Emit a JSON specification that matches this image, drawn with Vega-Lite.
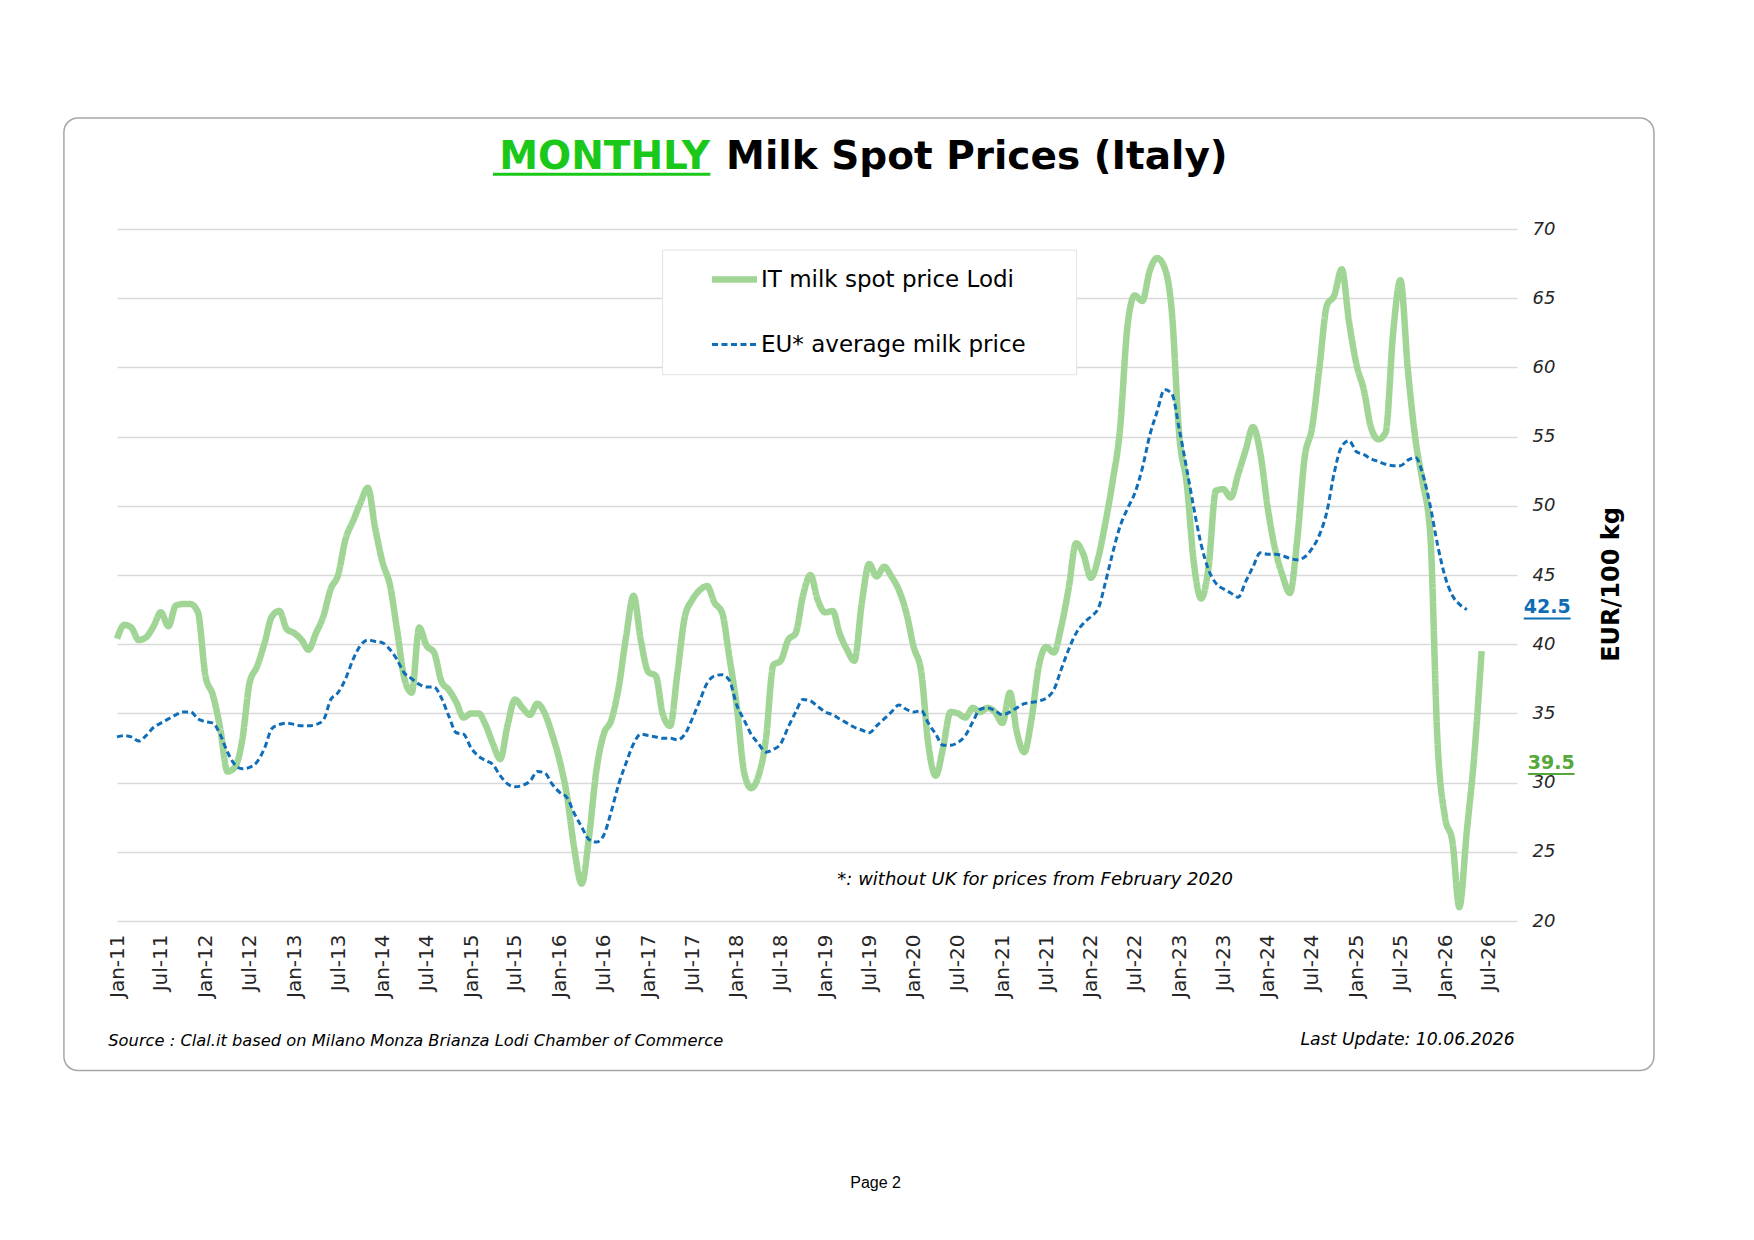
{
  "$schema": "https://vega.github.io/schema/vega-lite/v6.json",
  "width": 1400,
  "height": 692,
  "autosize": "none",
  "padding": {"left": 117, "top": 229, "right": 237, "bottom": 319},
  "background": "white",
  "view": {"stroke": null},
  "config": {"font": "DejaVu Sans"},
  "data": {
    "format": {"parse": {"d": "utc:'%Y-%m'"}},
    "values": [
      {"d": "2011-01", "it": 40.4, "eu": 33.3}, {"d": "2011-02", "it": 41.4, "eu": 33.4}, {"d": "2011-03", "it": 41.2, "eu": 33.3},
      {"d": "2011-04", "it": 40.3, "eu": 33.0}, {"d": "2011-05", "it": 40.5, "eu": 33.4}, {"d": "2011-06", "it": 41.3, "eu": 34.0},
      {"d": "2011-07", "it": 42.3, "eu": 34.3}, {"d": "2011-08", "it": 41.3, "eu": 34.6}, {"d": "2011-09", "it": 42.8, "eu": 34.9},
      {"d": "2011-10", "it": 42.9, "eu": 35.1}, {"d": "2011-11", "it": 42.9, "eu": 35.1}, {"d": "2011-12", "it": 42.3, "eu": 34.6},
      {"d": "2012-01", "it": 37.7, "eu": 34.4}, {"d": "2012-02", "it": 36.3, "eu": 34.3}, {"d": "2012-03", "it": 34.0, "eu": 33.5},
      {"d": "2012-04", "it": 30.8, "eu": 32.2}, {"d": "2012-05", "it": 31.1, "eu": 31.3}, {"d": "2012-06", "it": 33.1, "eu": 31.0},
      {"d": "2012-07", "it": 37.2, "eu": 31.1}, {"d": "2012-08", "it": 38.4, "eu": 31.5}, {"d": "2012-09", "it": 40.1, "eu": 32.5},
      {"d": "2012-10", "it": 42.0, "eu": 33.9}, {"d": "2012-11", "it": 42.4, "eu": 34.2}, {"d": "2012-12", "it": 41.1, "eu": 34.3},
      {"d": "2013-01", "it": 40.8, "eu": 34.2}, {"d": "2013-02", "it": 40.3, "eu": 34.1}, {"d": "2013-03", "it": 39.6, "eu": 34.1},
      {"d": "2013-04", "it": 40.8, "eu": 34.2}, {"d": "2013-05", "it": 42.0, "eu": 34.5}, {"d": "2013-06", "it": 44.0, "eu": 36.0},
      {"d": "2013-07", "it": 45.0, "eu": 36.5}, {"d": "2013-08", "it": 47.6, "eu": 37.5}, {"d": "2013-09", "it": 48.9, "eu": 38.9},
      {"d": "2013-10", "it": 50.2, "eu": 39.9}, {"d": "2013-11", "it": 51.3, "eu": 40.3}, {"d": "2013-12", "it": 48.4, "eu": 40.2},
      {"d": "2014-01", "it": 45.9, "eu": 40.1}, {"d": "2014-02", "it": 44.2, "eu": 39.6}, {"d": "2014-03", "it": 41.1, "eu": 38.9},
      {"d": "2014-04", "it": 37.5, "eu": 37.9}, {"d": "2014-05", "it": 36.5, "eu": 37.5}, {"d": "2014-06", "it": 41.2, "eu": 37.1},
      {"d": "2014-07", "it": 39.9, "eu": 36.9}, {"d": "2014-08", "it": 39.4, "eu": 36.9}, {"d": "2014-09", "it": 37.3, "eu": 36.1},
      {"d": "2014-10", "it": 36.7, "eu": 34.8}, {"d": "2014-11", "it": 35.8, "eu": 33.6}, {"d": "2014-12", "it": 34.7, "eu": 33.5},
      {"d": "2015-01", "it": 35.0, "eu": 32.5}, {"d": "2015-02", "it": 35.0, "eu": 31.9}, {"d": "2015-03", "it": 34.2, "eu": 31.6},
      {"d": "2015-04", "it": 32.8, "eu": 31.3}, {"d": "2015-05", "it": 31.7, "eu": 30.5}, {"d": "2015-06", "it": 34.2, "eu": 29.9},
      {"d": "2015-07", "it": 36.0, "eu": 29.7}, {"d": "2015-08", "it": 35.4, "eu": 29.8}, {"d": "2015-09", "it": 34.9, "eu": 30.1},
      {"d": "2015-10", "it": 35.7, "eu": 30.8}, {"d": "2015-11", "it": 35.0, "eu": 30.7}, {"d": "2015-12", "it": 33.5, "eu": 29.9},
      {"d": "2016-01", "it": 31.6, "eu": 29.3}, {"d": "2016-02", "it": 29.0, "eu": 28.9}, {"d": "2016-03", "it": 25.3, "eu": 27.8},
      {"d": "2016-04", "it": 22.7, "eu": 26.8}, {"d": "2016-05", "it": 26.0, "eu": 25.9}, {"d": "2016-06", "it": 30.9, "eu": 25.7},
      {"d": "2016-07", "it": 33.5, "eu": 26.2}, {"d": "2016-08", "it": 34.5, "eu": 27.9}, {"d": "2016-09", "it": 36.9, "eu": 29.9},
      {"d": "2016-10", "it": 40.5, "eu": 31.4}, {"d": "2016-11", "it": 43.5, "eu": 32.8}, {"d": "2016-12", "it": 40.3, "eu": 33.5},
      {"d": "2017-01", "it": 38.0, "eu": 33.4}, {"d": "2017-02", "it": 37.7, "eu": 33.3}, {"d": "2017-03", "it": 35.0, "eu": 33.2},
      {"d": "2017-04", "it": 34.1, "eu": 33.2}, {"d": "2017-05", "it": 37.9, "eu": 33.1}, {"d": "2017-06", "it": 42.0, "eu": 33.5},
      {"d": "2017-07", "it": 43.2, "eu": 34.6}, {"d": "2017-08", "it": 43.9, "eu": 35.9}, {"d": "2017-09", "it": 44.2, "eu": 37.2},
      {"d": "2017-10", "it": 43.0, "eu": 37.7}, {"d": "2017-11", "it": 42.3, "eu": 37.8}, {"d": "2017-12", "it": 39.1, "eu": 37.4},
      {"d": "2018-01", "it": 35.5, "eu": 35.6}, {"d": "2018-02", "it": 30.7, "eu": 34.5}, {"d": "2018-03", "it": 29.6, "eu": 33.5},
      {"d": "2018-04", "it": 30.5, "eu": 32.8}, {"d": "2018-05", "it": 33.1, "eu": 32.2}, {"d": "2018-06", "it": 38.5, "eu": 32.4},
      {"d": "2018-07", "it": 38.8, "eu": 32.8}, {"d": "2018-08", "it": 40.3, "eu": 34.0}, {"d": "2018-09", "it": 40.8, "eu": 35.1},
      {"d": "2018-10", "it": 43.5, "eu": 36.0}, {"d": "2018-11", "it": 45.0, "eu": 35.9}, {"d": "2018-12", "it": 43.2, "eu": 35.5},
      {"d": "2019-01", "it": 42.3, "eu": 35.1}, {"d": "2019-02", "it": 42.4, "eu": 34.9}, {"d": "2019-03", "it": 40.8, "eu": 34.6},
      {"d": "2019-04", "it": 39.6, "eu": 34.3}, {"d": "2019-05", "it": 38.8, "eu": 34.0}, {"d": "2019-06", "it": 43.0, "eu": 33.8},
      {"d": "2019-07", "it": 45.8, "eu": 33.6}, {"d": "2019-08", "it": 44.9, "eu": 34.1}, {"d": "2019-09", "it": 45.6, "eu": 34.6},
      {"d": "2019-10", "it": 44.9, "eu": 35.1}, {"d": "2019-11", "it": 43.9, "eu": 35.6}, {"d": "2019-12", "it": 42.3, "eu": 35.3},
      {"d": "2020-01", "it": 39.8, "eu": 35.1}, {"d": "2020-02", "it": 38.0, "eu": 35.2}, {"d": "2020-03", "it": 32.8, "eu": 34.3},
      {"d": "2020-04", "it": 30.5, "eu": 33.5}, {"d": "2020-05", "it": 32.5, "eu": 32.7}, {"d": "2020-06", "it": 35.1, "eu": 32.7},
      {"d": "2020-07", "it": 35.0, "eu": 32.9}, {"d": "2020-08", "it": 34.7, "eu": 33.4}, {"d": "2020-09", "it": 35.4, "eu": 34.4},
      {"d": "2020-10", "it": 35.1, "eu": 35.3}, {"d": "2020-11", "it": 35.4, "eu": 35.4}, {"d": "2020-12", "it": 35.1, "eu": 35.2},
      {"d": "2021-01", "it": 34.3, "eu": 34.9}, {"d": "2021-02", "it": 36.5, "eu": 35.1}, {"d": "2021-03", "it": 33.7, "eu": 35.4},
      {"d": "2021-04", "it": 32.2, "eu": 35.7}, {"d": "2021-05", "it": 34.6, "eu": 35.8}, {"d": "2021-06", "it": 38.5, "eu": 35.9},
      {"d": "2021-07", "it": 39.8, "eu": 36.1}, {"d": "2021-08", "it": 39.4, "eu": 36.7}, {"d": "2021-09", "it": 41.3, "eu": 38.2},
      {"d": "2021-10", "it": 44.0, "eu": 39.6}, {"d": "2021-11", "it": 47.3, "eu": 40.8}, {"d": "2021-12", "it": 46.5, "eu": 41.5},
      {"d": "2022-01", "it": 44.8, "eu": 42.0}, {"d": "2022-02", "it": 46.3, "eu": 42.6}, {"d": "2022-03", "it": 48.7, "eu": 44.4},
      {"d": "2022-04", "it": 51.8, "eu": 46.6}, {"d": "2022-05", "it": 55.5, "eu": 48.5}, {"d": "2022-06", "it": 63.0, "eu": 49.8},
      {"d": "2022-07", "it": 65.2, "eu": 50.9}, {"d": "2022-08", "it": 64.8, "eu": 52.7}, {"d": "2022-09", "it": 67.0, "eu": 55.1},
      {"d": "2022-10", "it": 67.9, "eu": 56.8}, {"d": "2022-11", "it": 67.2, "eu": 58.4}, {"d": "2022-12", "it": 64.0, "eu": 58.1},
      {"d": "2023-01", "it": 55.0, "eu": 55.5}, {"d": "2023-02", "it": 51.5, "eu": 52.6}, {"d": "2023-03", "it": 46.0, "eu": 49.9},
      {"d": "2023-04", "it": 43.3, "eu": 47.2}, {"d": "2023-05", "it": 45.5, "eu": 45.4}, {"d": "2023-06", "it": 51.1, "eu": 44.4},
      {"d": "2023-07", "it": 51.2, "eu": 44.0}, {"d": "2023-08", "it": 50.6, "eu": 43.7}, {"d": "2023-09", "it": 52.3, "eu": 43.4},
      {"d": "2023-10", "it": 54.0, "eu": 44.5}, {"d": "2023-11", "it": 55.7, "eu": 45.6}, {"d": "2023-12", "it": 53.8, "eu": 46.6},
      {"d": "2024-01", "it": 49.8, "eu": 46.5}, {"d": "2024-02", "it": 46.8, "eu": 46.5}, {"d": "2024-03", "it": 45.0, "eu": 46.4},
      {"d": "2024-04", "it": 43.7, "eu": 46.2}, {"d": "2024-05", "it": 47.5, "eu": 46.1}, {"d": "2024-06", "it": 53.5, "eu": 46.3},
      {"d": "2024-07", "it": 55.6, "eu": 46.9}, {"d": "2024-08", "it": 60.0, "eu": 47.9}, {"d": "2024-09", "it": 64.5, "eu": 49.6},
      {"d": "2024-10", "it": 65.2, "eu": 52.4}, {"d": "2024-11", "it": 67.1, "eu": 54.3}, {"d": "2024-12", "it": 63.3, "eu": 54.7},
      {"d": "2025-01", "it": 60.2, "eu": 53.9}, {"d": "2025-02", "it": 58.3, "eu": 53.7}, {"d": "2025-03", "it": 55.7, "eu": 53.4},
      {"d": "2025-04", "it": 54.8, "eu": 53.2}, {"d": "2025-05", "it": 55.3, "eu": 53.0}, {"d": "2025-06", "it": 62.5, "eu": 52.9},
      {"d": "2025-07", "it": 66.3, "eu": 52.9}, {"d": "2025-08", "it": 59.8, "eu": 53.3}, {"d": "2025-09", "it": 54.8, "eu": 53.5},
      {"d": "2025-10", "it": 51.7, "eu": 52.3}, {"d": "2025-11", "it": 48.0, "eu": 50.0}, {"d": "2025-12", "it": 33.0, "eu": 47.2},
      {"d": "2026-01", "it": 27.5, "eu": 44.9}, {"d": "2026-02", "it": 25.7, "eu": 43.5}, {"d": "2026-03", "it": 21.0, "eu": 42.9},
      {"d": "2026-04", "it": 26.5, "eu": 42.5}, {"d": "2026-05", "it": 31.8}, {"d": "2026-06", "it": 39.5}
    ]
  },
  "layer": [
    {
      "data": {"values": [{}]},
      "mark": {"type": "rect", "fill": "white", "fillOpacity": 0, "stroke": "#a6a6a6", "strokeWidth": 1.5, "cornerRadius": 14},
      "encoding": {
        "x": {"datum": {"year": 2010, "month": 5, "date": 27, "utc": true}, "type": "temporal",
              "scale": {"type": "utc", "domain": [{"year": 2011, "month": 1, "date": 1, "utc": true}, {"year": 2026, "month": 10, "date": 25, "utc": true}], "nice": false}},
        "x2": {"datum": {"year": 2028, "month": 5, "date": 12, "utc": true}},
        "y": {"datum": 78.02, "type": "quantitative", "scale": {"domain": [20, 70], "nice": false, "zero": false}},
        "y2": {"datum": 9.2}
      }
    },
    {
      "data": {"values": [{}]},
      "mark": {"type": "rect", "fill": "#b0b0b0", "opacity": 0.7, "xOffset": 3, "yOffset": 4},
      "encoding": {
        "x": {"datum": {"year": 2017, "month": 3, "date": 1, "utc": true}, "type": "temporal"},
        "x2": {"datum": {"year": 2021, "month": 11, "date": 3, "utc": true}},
        "y": {"datum": 68.48, "type": "quantitative"},
        "y2": {"datum": 59.47}
      }
    },
    {
      "data": {"values": [{}]},
      "mark": {"type": "rect", "fill": "white", "stroke": "#e3e3e3", "strokeWidth": 1},
      "encoding": {
        "x": {"datum": {"year": 2017, "month": 3, "date": 1, "utc": true}, "type": "temporal"},
        "x2": {"datum": {"year": 2021, "month": 11, "date": 3, "utc": true}},
        "y": {"datum": 68.48, "type": "quantitative"},
        "y2": {"datum": 59.47}
      }
    },
    {
      "transform": [
        {"fold": ["it", "eu"], "as": ["series", "price"]},
        {"filter": "isValid(datum.price)"}
      ],
      "mark": {"type": "line", "interpolate": "monotone", "strokeCap": "butt", "strokeJoin": "round"},
      "encoding": {
        "x": {
          "field": "d", "type": "temporal",
          "scale": {"type": "utc", "domain": [{"year": 2011, "month": 1, "date": 1, "utc": true}, {"year": 2026, "month": 10, "date": 25, "utc": true}], "nice": false},
          "axis": {
            "title": null, "format": "%b-%y", "tickCount": {"interval": "month", "step": 6},
            "labelAngle": 270, "labelPadding": 13, "labelFont": "DejaVu Sans", "labelFontSize": 20, "labelColor": "#262626",
            "domain": false, "ticks": false, "grid": false, "labelOverlap": false, "labelFlush": false, "labelBound": false
          }
        },
        "y": {
          "field": "price", "type": "quantitative",
          "scale": {"domain": [20, 70], "nice": false, "zero": false},
          "axis": {
            "orient": "right", "values": [20, 25, 30, 35, 40, 45, 50, 55, 60, 65, 70],
            "grid": true, "gridColor": "#d9d9d9", "gridWidth": 1.3, "domain": false, "ticks": false,
            "labelFont": "DejaVu Sans", "labelFontStyle": "italic", "labelFontSize": 18, "labelColor": "#262626",
            "labelPadding": 15, "labelAlign": "left",
            "title": "EUR/100 kg", "titleFont": "DejaVu Sans", "titleFontWeight": "bold", "titleFontSize": 24, "titleColor": "black",
            "titleAngle": 270, "titleX": 94, "titleY": 355, "titleAlign": "center", "titleBaseline": "middle"
          }
        },
        "color": {
          "field": "series", "type": "nominal",
          "scale": {"domain": ["it", "eu"], "range": ["#a0d596", "#106eb9"]},
          "legend": {
            "orient": "none", "legendX": 606, "legendY": 39, "title": null, "padding": 0,
            "symbolType": "stroke", "symbolSize": 2025, "rowPadding": 40, "labelOffset": 15,
            "labelFont": "DejaVu Sans", "labelFontSize": 23, "labelColor": "black", "labelLimit": 500,
            "labelExpr": "datum.value == 'it' ? 'IT milk spot price Lodi' : 'EU* average milk price'",
            "encode": {"symbols": {"update": {"strokeWidth": {"signal": "datum.value == 'it' ? 6.5 : 3"}}}}
          }
        },
        "strokeDash": {
          "field": "series", "type": "nominal",
          "scale": {"domain": ["it", "eu"], "range": [[1, 0], [6, 3.5]]},
          "legend": {
            "orient": "none", "legendX": 606, "legendY": 39, "title": null, "padding": 0,
            "symbolType": "stroke", "symbolSize": 2025, "rowPadding": 40, "labelOffset": 15,
            "labelFont": "DejaVu Sans", "labelFontSize": 23, "labelColor": "black", "labelLimit": 500,
            "labelExpr": "datum.value == 'it' ? 'IT milk spot price Lodi' : 'EU* average milk price'",
            "encode": {"symbols": {"update": {"strokeWidth": {"signal": "datum.value == 'it' ? 6.5 : 3"}}}}
          }
        },
        "strokeWidth": {"condition": {"test": "datum.series == 'it'", "value": 6.5}, "value": 3}
      }
    },
    {
      "transform": [
        {"fold": ["it", "eu"], "as": ["series", "price"]},
        {"filter": "isValid(datum.price)"},
        {"joinaggregate": [{"op": "max", "field": "d", "as": "last"}], "groupby": ["series"]},
        {"filter": "time(datum.d) == time(datum.last) && datum.series == 'eu'"}
      ],
      "mark": {"type": "text", "align": "left", "baseline": "middle", "dy": -3, "font": "DejaVu Sans", "fontWeight": "bold", "fontSize": 19, "color": "#0f6db5"},
      "encoding": {
        "x": {"datum": {"year": 2026, "month": 11, "date": 22, "utc": true}, "type": "temporal"},
        "y": {"field": "price", "type": "quantitative"},
        "text": {"field": "price", "type": "quantitative", "format": ".1f"}
      }
    },
    {
      "transform": [
        {"fold": ["it", "eu"], "as": ["series", "price"]},
        {"filter": "isValid(datum.price)"},
        {"joinaggregate": [{"op": "max", "field": "d", "as": "last"}], "groupby": ["series"]},
        {"filter": "time(datum.d) == time(datum.last) && datum.series == 'eu'"}
      ],
      "mark": {"type": "rule", "color": "#0f6db5", "strokeWidth": 2, "yOffset": 9},
      "encoding": {
        "x": {"datum": {"year": 2026, "month": 11, "date": 22, "utc": true}, "type": "temporal"},
        "x2": {"datum": {"year": 2027, "month": 6, "date": 3, "utc": true}},
        "y": {"field": "price", "type": "quantitative"}
      }
    },
    {
      "transform": [
        {"fold": ["it", "eu"], "as": ["series", "price"]},
        {"filter": "isValid(datum.price)"},
        {"joinaggregate": [{"op": "max", "field": "d", "as": "last"}], "groupby": ["series"]},
        {"filter": "time(datum.d) == time(datum.last) && datum.series == 'it'"}
      ],
      "mark": {"type": "text", "align": "left", "baseline": "middle", "dx": 4, "dy": 112, "font": "DejaVu Sans", "fontWeight": "bold", "fontSize": 19, "color": "#55a83a"},
      "encoding": {
        "x": {"datum": {"year": 2026, "month": 11, "date": 22, "utc": true}, "type": "temporal"},
        "y": {"field": "price", "type": "quantitative"},
        "text": {"field": "price", "type": "quantitative", "format": ".1f"}
      }
    },
    {
      "transform": [
        {"fold": ["it", "eu"], "as": ["series", "price"]},
        {"filter": "isValid(datum.price)"},
        {"joinaggregate": [{"op": "max", "field": "d", "as": "last"}], "groupby": ["series"]},
        {"filter": "time(datum.d) == time(datum.last) && datum.series == 'it'"}
      ],
      "mark": {"type": "rule", "color": "#55a83a", "strokeWidth": 2, "yOffset": 123, "xOffset": 4, "x2Offset": 4},
      "encoding": {
        "x": {"datum": {"year": 2026, "month": 11, "date": 22, "utc": true}, "type": "temporal"},
        "x2": {"datum": {"year": 2027, "month": 6, "date": 3, "utc": true}},
        "y": {"field": "price", "type": "quantitative"}
      }
    },
    {
      "data": {"values": [{}]},
      "mark": {"type": "text", "text": "MONTHLY", "align": "right", "baseline": "alphabetic", "dx": -8, "font": "DejaVu Sans", "fontWeight": "bold", "fontSize": 39, "color": "#19c819"},
      "encoding": {
        "x": {"datum": {"year": 2017, "month": 10, "date": 16, "utc": true}, "type": "temporal"},
        "y": {"datum": 74.3, "type": "quantitative"}
      }
    },
    {
      "data": {"values": [{}]},
      "mark": {"type": "text", "text": "Milk Spot Prices (Italy)", "align": "left", "baseline": "alphabetic", "dx": 8, "font": "DejaVu Sans", "fontWeight": "bold", "fontSize": 39, "color": "black"},
      "encoding": {
        "x": {"datum": {"year": 2017, "month": 10, "date": 16, "utc": true}, "type": "temporal"},
        "y": {"datum": 74.3, "type": "quantitative"}
      }
    },
    {
      "data": {"values": [{}]},
      "mark": {"type": "rule", "color": "#19c819", "strokeWidth": 3},
      "encoding": {
        "x": {"datum": {"year": 2015, "month": 4, "date": 1, "utc": true}, "type": "temporal"},
        "x2": {"datum": {"year": 2017, "month": 9, "date": 14, "utc": true}},
        "y": {"datum": 73.95, "type": "quantitative"}
      }
    },
    {
      "data": {"values": [{}]},
      "mark": {"type": "text", "text": "*: without UK for prices from February 2020", "align": "left", "baseline": "middle", "font": "DejaVu Sans", "fontStyle": "italic", "fontSize": 18, "color": "black"},
      "encoding": {
        "x": {"datum": {"year": 2019, "month": 2, "date": 20, "utc": true}, "type": "temporal"},
        "y": {"datum": 22.95, "type": "quantitative"}
      }
    },
    {
      "data": {"values": [{}]},
      "mark": {"type": "text", "text": "Source : Clal.it based on Milano Monza Brianza Lodi Chamber of Commerce", "align": "left", "baseline": "middle", "font": "DejaVu Sans", "fontStyle": "italic", "fontSize": 16.3, "color": "black"},
      "encoding": {
        "x": {"datum": {"year": 2010, "month": 11, "date": 26, "utc": true}, "type": "temporal"},
        "y": {"datum": 11.35, "type": "quantitative"}
      }
    },
    {
      "data": {"values": [{}]},
      "mark": {"type": "text", "text": "Last Update: 10.06.2026", "align": "right", "baseline": "middle", "font": "DejaVu Sans", "fontStyle": "italic", "fontSize": 17.3, "color": "black"},
      "encoding": {
        "x": {"datum": {"year": 2026, "month": 10, "date": 16, "utc": true}, "type": "temporal"},
        "y": {"datum": 11.4, "type": "quantitative"}
      }
    },
    {
      "data": {"values": [{}]},
      "mark": {"type": "text", "text": "Page 2", "align": "center", "baseline": "middle", "font": "Liberation Sans", "fontSize": 16, "color": "black"},
      "encoding": {
        "x": {"datum": {"year": 2019, "month": 7, "date": 28, "utc": true}, "type": "temporal"},
        "y": {"datum": 1.07, "type": "quantitative"}
      }
    }
  ]
}
